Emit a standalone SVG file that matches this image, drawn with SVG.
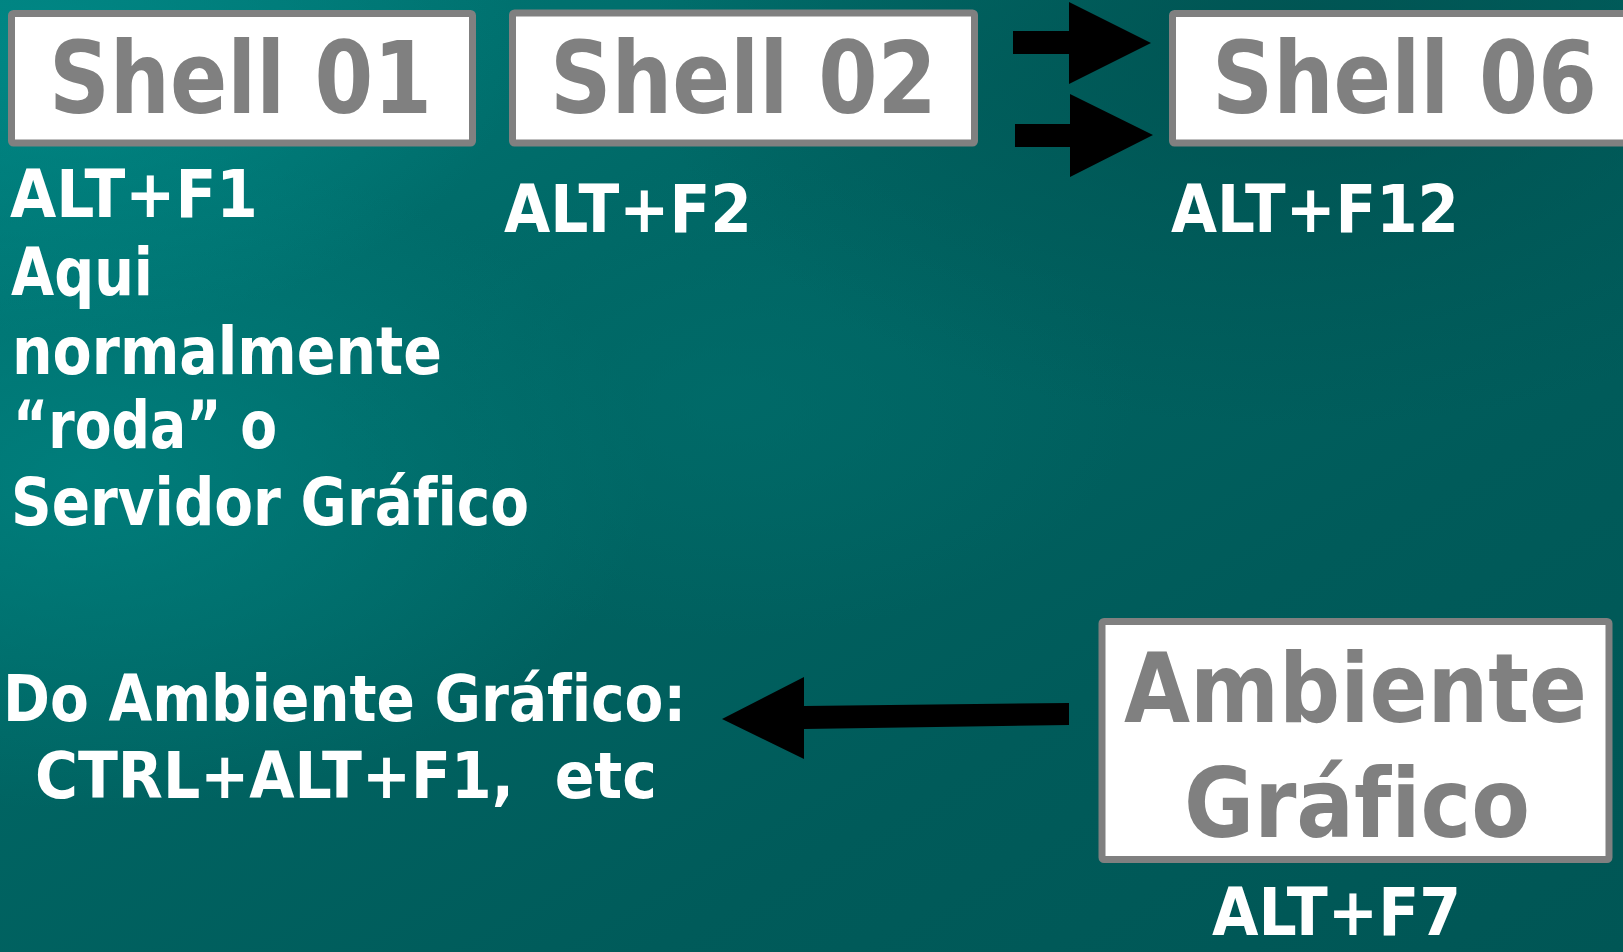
<svg xmlns="http://www.w3.org/2000/svg" width="1623" height="952" viewBox="0 0 1623 952">
  <style>
    .box { fill: #ffffff; stroke: #808080; stroke-width: 7; }
    .gt { fill: #808080; font-family: "DejaVu Sans", Verdana, sans-serif; font-weight: bold; font-variant-ligatures: none; }
    .wt { fill: #ffffff; font-family: "DejaVu Sans", Verdana, sans-serif; font-weight: bold; white-space: pre; font-variant-ligatures: none; }
    .arrow { fill: #000000; }
  </style>
  <defs>
    <linearGradient id="bg" x1="0" y1="0" x2="1" y2="1">
      <stop offset="0" stop-color="#007a78"/>
      <stop offset="0.35" stop-color="#006664"/>
      <stop offset="0.7" stop-color="#005b5a"/>
      <stop offset="1" stop-color="#005655"/>
    </linearGradient>
    <radialGradient id="glow1" cx="0.05" cy="0.5" r="0.35">
      <stop offset="0" stop-color="#008280" stop-opacity="0.8"/>
      <stop offset="1" stop-color="#008280" stop-opacity="0"/>
    </radialGradient>
    <radialGradient id="glow2" cx="0.02" cy="0.05" r="0.3">
      <stop offset="0" stop-color="#008a88" stop-opacity="0.8"/>
      <stop offset="1" stop-color="#008a88" stop-opacity="0"/>
    </radialGradient>
    <radialGradient id="glow3" cx="0.45" cy="0.42" r="0.25">
      <stop offset="0" stop-color="#006e6c" stop-opacity="0.6"/>
      <stop offset="1" stop-color="#006e6c" stop-opacity="0"/>
    </radialGradient>
    <radialGradient id="dark1" cx="0.8" cy="0.05" r="0.4">
      <stop offset="0" stop-color="#004c4b" stop-opacity="0.7"/>
      <stop offset="1" stop-color="#004c4b" stop-opacity="0"/>
    </radialGradient>
  </defs>
  <rect x="0" y="0" width="1623" height="952" fill="url(#bg)"/>
  <rect x="0" y="0" width="1623" height="952" fill="url(#glow1)"/>
  <rect x="0" y="0" width="1623" height="952" fill="url(#glow2)"/>
  <rect x="0" y="0" width="1623" height="952" fill="url(#glow3)"/>
  <rect x="0" y="0" width="1623" height="952" fill="url(#dark1)"/>

  <g id="connectors">
    <polygon class="arrow" points="1013,31 1069,31 1069,2 1151,43 1069,84 1069,54 1013,54"/>
    <polygon class="arrow" points="1015,124 1070,124 1070,94 1153,135 1070,177 1070,147 1015,147"/>
    <polygon class="arrow" points="722,719 804,677 804,706 1069,703 1069,725 804,729 804,759"/>
  </g>

  <g id="shell01">
    <rect class="box" x="11.5" y="13.5" width="461" height="129.5" rx="2"/>
    <text class="gt" x="49" y="113" font-size="100" textLength="383" lengthAdjust="spacingAndGlyphs">Shell 01</text>
  </g>
  <g id="shell02">
    <rect class="box" x="512.5" y="13" width="462" height="130" rx="2"/>
    <text class="gt" x="550" y="113" font-size="100" textLength="387" lengthAdjust="spacingAndGlyphs">Shell 02</text>
  </g>
  <g id="shell06">
    <rect class="box" x="1172.5" y="13.5" width="470" height="129.5" rx="2"/>
    <text class="gt" font-size="100" transform="translate(1212,113) scale(0.849,1)" x="0" y="0">Shell 06</text>
  </g>
  <g id="ambiente">
    <rect class="box" x="1102" y="621.5" width="507" height="238" rx="2"/>
    <text class="gt" font-size="97" transform="translate(1124,722) scale(0.8805,1)" x="0" y="0">Ambiente</text>
    <text class="gt" x="1184" y="837" font-size="97" textLength="346" lengthAdjust="spacingAndGlyphs">Gráfico</text>
  </g>

  <g id="labels">
    <text class="wt" x="10" y="217" font-size="66" textLength="248" lengthAdjust="spacingAndGlyphs">ALT+F1</text>
    <text class="wt" x="11" y="295" font-size="66" textLength="142" lengthAdjust="spacingAndGlyphs">Aqui</text>
    <text class="wt" x="12" y="374" font-size="66" textLength="430" lengthAdjust="spacingAndGlyphs">normalmente</text>
    <text class="wt" x="13" y="448" font-size="66" textLength="264" lengthAdjust="spacingAndGlyphs">“roda” o</text>
    <text class="wt" x="11" y="525" font-size="66" textLength="518" lengthAdjust="spacingAndGlyphs">Servidor Gráfico</text>
    <text class="wt" x="504" y="232" font-size="66" textLength="248" lengthAdjust="spacingAndGlyphs">ALT+F2</text>
    <text class="wt" x="1171" y="232" font-size="66" textLength="288" lengthAdjust="spacingAndGlyphs">ALT+F12</text>
    <text class="wt" x="3" y="721" font-size="64" textLength="683" lengthAdjust="spacingAndGlyphs">Do Ambiente Gráfico:</text>
    <text class="wt" x="35" y="798" font-size="64" textLength="622" lengthAdjust="spacingAndGlyphs">CTRL+ALT+F1,  etc</text>
    <text class="wt" x="1212" y="935" font-size="66" textLength="249" lengthAdjust="spacingAndGlyphs">ALT+F7</text>
  </g>
</svg>
